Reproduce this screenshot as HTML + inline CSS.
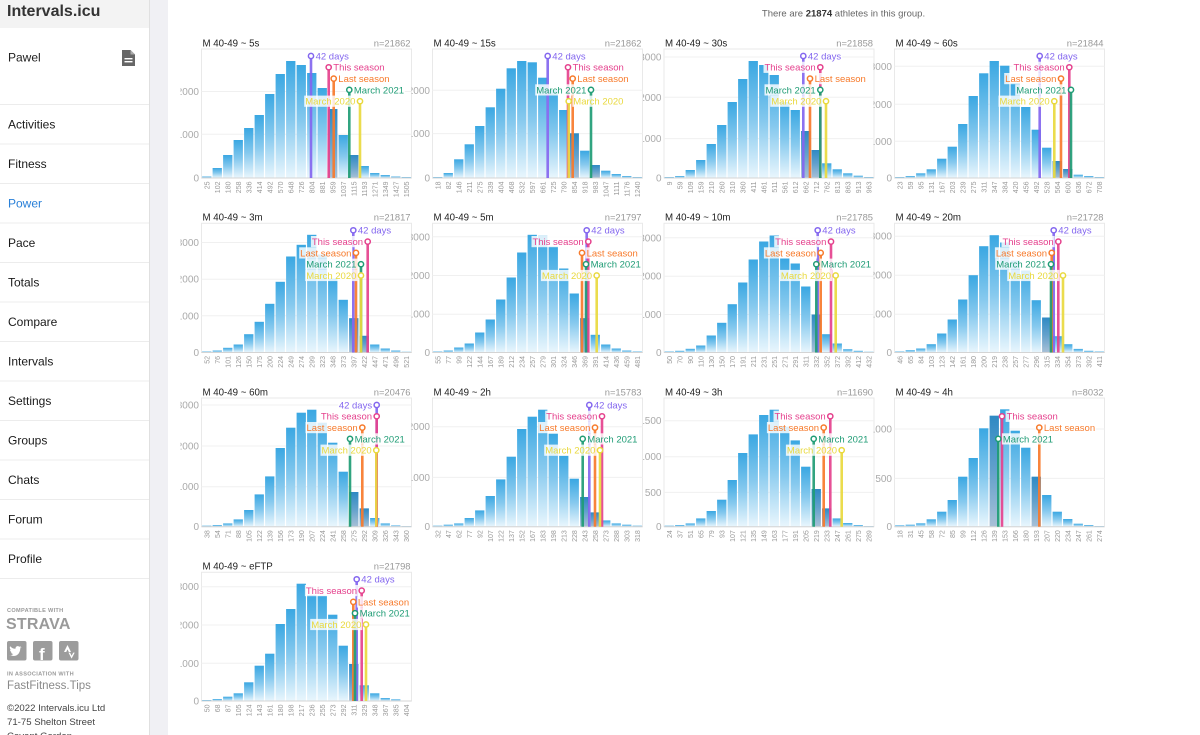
<!DOCTYPE html>
<html><head><meta charset="utf-8"><title>Power distribution</title>
<style>
html,body{margin:0;padding:0;background:#fff;}
body{width:1200px;height:735px;overflow:hidden;position:relative;font-family:"Liberation Sans",Arial,sans-serif;}
svg{position:absolute;left:0;top:0;}
</style></head>
<body>
<svg id="m" width="1200" height="735" viewBox="0 0 1200 735" xmlns="http://www.w3.org/2000/svg" font-family="'Liberation Sans', Arial, sans-serif">
<defs>
<linearGradient id="bg" x1="0" y1="0" x2="0" y2="1"><stop offset="0" stop-color="#3aa7e2"/><stop offset="0.5" stop-color="#86c9ee"/><stop offset="1" stop-color="#e9f6fd"/></linearGradient>
</defs>
<!-- sidebar -->
<rect x="0" y="0" width="149" height="735" fill="#fff"/>
<rect x="0" y="0" width="149" height="28" fill="#f3f3f3"/>
<rect x="150" y="0" width="18" height="735" fill="#f0f0f4"/>
<line x1="149.5" y1="0" x2="149.5" y2="735" stroke="#e0e0e0"/>
<text x="7" y="16" font-size="16" font-weight="bold" fill="#333">Intervals.icu</text>
<text x="8" y="61.5" font-size="12" fill="#222">Pawel</text>
<path d="M122 50h8.5l4.5 4.5V66h-13z" fill="#666"/>
<path d="M130.5 50v4.5h4.5z" fill="#aaa"/>
<rect x="124.5" y="58" width="8" height="1.4" fill="#fff"/>
<rect x="124.5" y="61" width="8" height="1.4" fill="#fff"/>
<g stroke="#ececec" stroke-width="1">
<line x1="0" x2="149" y1="104.5" y2="104.5"/><line x1="0" x2="149" y1="144" y2="144"/><line x1="0" x2="149" y1="183.5" y2="183.5"/><line x1="0" x2="149" y1="223" y2="223"/><line x1="0" x2="149" y1="262.5" y2="262.5"/><line x1="0" x2="149" y1="302" y2="302"/><line x1="0" x2="149" y1="341.5" y2="341.5"/><line x1="0" x2="149" y1="381" y2="381"/><line x1="0" x2="149" y1="420.5" y2="420.5"/><line x1="0" x2="149" y1="460" y2="460"/><line x1="0" x2="149" y1="499.5" y2="499.5"/><line x1="0" x2="149" y1="539" y2="539"/><line x1="0" x2="149" y1="578.5" y2="578.5"/>
</g>
<g font-size="12" fill="#1a1a1a">
<text x="8" y="128.5">Activities</text>
<text x="8" y="168">Fitness</text>
<text x="8" y="207.5" fill="#2a80d8">Power</text>
<text x="8" y="247">Pace</text>
<text x="8" y="286.5">Totals</text>
<text x="8" y="326">Compare</text>
<text x="8" y="365.5">Intervals</text>
<text x="8" y="405">Settings</text>
<text x="8" y="444.5">Groups</text>
<text x="8" y="484">Chats</text>
<text x="8" y="523.5">Forum</text>
<text x="8" y="563">Profile</text>
</g>
<text x="7" y="612" font-size="5.6" font-weight="bold" fill="#9a9a9a" letter-spacing="0.3">COMPATIBLE WITH</text>
<text x="6" y="629" font-size="16" font-weight="bold" fill="#9a9a9a" letter-spacing="0.2">STRAVA</text>
<rect x="7" y="641" width="19.5" height="19.5" rx="2" fill="#9c9c9c"/>
<path d="M10.5 655c3 1.8 7 1 8.6-2.2 1-1.8 1.2-3.3 1.1-4.3l1.5-1.3-1.7.4 1-1.4-1.7.6c-1.6-1.5-4-.3-3.8 2-2.3 0-4-1.1-5.3-2.6-.8 1.5-.2 3 1 3.8l-1.2-.3c0 1.3.9 2.2 2.1 2.6h-1.2c.4 1 1.4 1.7 2.5 1.7-1.3 1-2.7 1.3-4.2 1.2z" fill="#fff"/>
<rect x="33" y="641" width="19.5" height="19.5" rx="2" fill="#9c9c9c"/>
<text x="39" y="660" font-size="17" font-weight="bold" fill="#fff">f</text>
<rect x="59" y="641" width="19.5" height="19.5" rx="2" fill="#9c9c9c"/>
<path d="M64 652l3.5-7 3.5 7h-2.2l-1.3-2.6-1.3 2.6zM70 652.6l1.6 3.2 1.6-3.2h1.5l-3.1 6-3.1-6z" fill="#fff"/>
<text x="7" y="675.5" font-size="5.6" font-weight="bold" fill="#9a9a9a" letter-spacing="0.3">IN ASSOCIATION WITH</text>
<text x="7" y="689" font-size="11.5" fill="#8a8a8a">FastFitness.Tips</text>
<text x="7" y="711" font-size="9.6" fill="#444">©2022 Intervals.icu Ltd</text>
<text x="7" y="725" font-size="9.6" fill="#444">71-75 Shelton Street</text>
<text x="7" y="739" font-size="9.6" fill="#444">Covent Garden</text>
<!-- header -->
<text x="843.5" y="16.5" font-size="9.5" fill="#666" text-anchor="middle">There are <tspan font-weight="bold" fill="#333">21874</tspan> athletes in this group.</text>
<g id="ch"></g>
</svg>
<script>
const D=[
['5s',21862,[25,102,180,258,336,414,492,570,648,726,804,881,959,1037,1115,1193,1271,1349,1427,1505],[1.5,10,23,38,50,63,84,104,117,113,105,90,69,43,23,12,5,3,1.5,1],[[43.7,'1000'],[86.5,'2000']],[[311,1],[328.7,1],[333.7,1],[349.3,1],[360,0]]],
['15s',21862,[18,82,146,211,275,339,404,468,532,597,661,725,790,854,918,983,1047,1111,1176,1240],[1,5,18.7,33.7,52,70.7,89.3,109.7,117,115.7,100.3,88,68,44.7,27.3,13,7.3,4,2,1],[[44.4,'1000'],[87.7,'2000']],[[547.7,1],[568,1],[572.7,1],[591,0],[568.7,1]]],
['30s',21858,[9,59,109,159,210,260,310,360,411,461,511,561,612,662,712,762,813,863,913,963],[1,2,8,18,34,53,76,99,117,113,103,76,68,47,28,14.7,8.7,4.7,2.3,1],[[39.4,'1000'],[80.7,'2000'],[121,'3000']],[[803.3,1],[820.3,0],[810,1],[820.3,0],[826,0]]],
['60s',21844,[23,59,95,131,167,203,239,275,311,347,384,420,456,492,528,564,600,636,672,708],[1,2,4.7,8.7,19.3,31.3,54,82,104.7,117,112.3,95,71,48.3,30.3,17,9,3.3,2,1],[[36.7,'1000'],[73.7,'2000'],[111.7,'3000']],[[1039.7,1],[1069.3,0],[1061,0],[1071,0],[1054.3,0]]],
['3m',21817,[52,76,101,126,150,175,200,224,249,274,299,323,348,373,397,422,447,471,496,521],[1,2,4.7,8,18.3,30.7,48.7,70.7,96,107.7,117.7,98,74,52.7,34.3,16.7,8,4,2,0.7],[[36.7,'1000'],[73.3,'2000'],[110,'3000']],[[353.3,1],[367.7,0],[356,0],[361,0],[361,0]]],
['5m',21797,[55,77,99,122,144,167,189,212,234,257,279,301,324,346,369,391,414,436,459,481],[1,2,5,9,20,33,53,75,100,117.7,116.7,106,84,59,34.3,17.7,8,4,2,1],[[38.3,'1000'],[77,'2000'],[115.7,'3000']],[[586.7,1],[588.3,0],[582,1],[586,1],[596.7,0]]],
['10m',21785,[50,70,90,110,130,150,170,191,211,231,251,271,291,311,332,352,372,392,412,432],[1,1.7,3.7,7,17,29.7,48.3,70,93,111,117,94,89,66,38,18.3,9,3.3,1.7,0.7],[[38,'1000'],[76.3,'2000'],[114.7,'3000']],[[817.7,1],[831,0],[820.7,0],[816.3,1],[835.7,0]]],
['20m',21728,[46,65,84,103,123,142,161,180,200,219,238,257,277,296,315,334,354,373,392,411],[1,2.3,4,8.3,19,33,53,77.3,106.3,117.3,110,92,82,52.3,35,16.3,8.3,3.6,1.7,1],[[38.3,'1000'],[77.3,'2000'],[116.3,'3000']],[[1053.7,1],[1058.3,0],[1051.7,0],[1051,0],[1063,0]]],
['60m',20476,[38,54,71,88,105,122,139,156,173,190,207,224,241,258,275,292,309,326,343,360],[1,1.7,3.3,7.3,16.7,32.3,50.3,78.7,99,114,117,104,84,55,34.7,18.3,8.7,3.3,1.3,0.5],[[40,'1000'],[80.7,'2000'],[121.7,'3000']],[[376.7,0],[376.7,0],[362.3,0],[350,1],[376.3,0]]],
['2h',15783,[32,47,62,77,92,107,122,137,152,167,183,198,213,228,243,258,273,288,303,318],[1,2,3.3,8.7,16.3,30.7,47.3,70,97.7,110,117,93,71,48,29.7,14.3,6.3,3.3,2,1],[[49.3,'1000'],[100,'2000']],[[589.3,1],[602,0],[595,0],[582.7,1],[600,0]]],
['3h',11690,[24,37,51,65,79,93,107,121,135,149,163,177,191,205,219,233,247,261,275,289],[1,1.7,3.3,8.3,15.7,27,46.7,73.7,92.3,111.7,117,100,86.3,60,37.7,18.3,8.3,3.7,1.7,0.5],[[34.3,'500'],[70,'1000'],[106,'1500']],[null,[830.3,0],[823.7,0],[813.7,1],[841.7,0]]],
['4h',8032,[18,31,45,58,72,85,99,112,126,139,153,166,180,193,207,220,234,247,261,274],[1.4,2,3.4,7.4,15,26.7,50,68.7,98.4,111,117.4,96,79,50,31.7,15,7.7,3,1.7,0.7],[[48.3,'500'],[97.7,'1000']],[null,[1002,1],[1039.3,1],[998.3,1],null]],
['eFTP',21798,[50,68,87,105,124,143,161,180,198,217,236,255,273,292,311,329,348,367,385,404],[1,2,4.3,7.7,18.7,35.3,47.3,77,92,117.3,106,105.3,86.3,55.3,37,15.7,7.7,3,1.7,0.5],[[37.7,'1000'],[76,'2000'],[114.3,'3000']],[[356.7,1],[361.7,0],[353.3,1],[355,1],[366,0]]]
];
const L=[201.5,432.5,664,894.5],TOP=[49,223.3,398,572.3],B=[178,352.5,526.7,701];
const MK=[['42 days','#8366ef',33.3],['This season','#e5418d',51.2],['Last season','#f77a2b',51.2],['March 2021','#1f9c75',50.2],['March 2020','#e9d93e',50.2]];
const MO=[7,18.3,29.6,40.9,52.2];
const f=v=>(+v).toFixed(1);
let h='';
D.forEach((c,k)=>{
  const l=L[k%4],t=TOP[k>>2],b=B[k>>2],r=l+210;
  h+=`<clipPath id="cp${k}"><rect x="${f(l-21)}" y="${f(t-15)}" width="20.5" height="${f(b-t+30)}"/></clipPath>`;
  h+=`<rect x="${l}" y="${t}" width="210" height="${f(b-t)}" fill="none" stroke="#e9e9e9"/>`;
  c[4].forEach(([o])=>{h+=`<line x1="${l}" x2="${r}" y1="${f(b-o)}" y2="${f(b-o)}" stroke="#f0f0f0"/>`;});
  h+=`<g clip-path="url(#cp${k})" fill="#aaa" font-size="10" text-anchor="end">`;
  [[0,'0']].concat(c[4]).forEach(([o,v])=>{h+=`<text x="${f(l-2.5)}" y="${f(b-o+3.5)}">${v}</text>`;});
  h+='</g>';
  const hi=new Set();
  [2,3].forEach(i=>{const m=c[5][i];if(m)hi.add(Math.floor((m[0]-l)/10.5));});
  c[3].forEach((v,i)=>{
    const x=f(l+i*10.5+0.6),y=f(b-v);
    h+=`<rect x="${x}" y="${y}" width="9.3" height="${v}" fill="url(#bg)"/>`;
    if(hi.has(i))h+=`<rect x="${x}" y="${y}" width="9.3" height="${v}" fill="#14467f" fill-opacity=".3"/>`;
  });
  h+=`<line x1="${l}" x2="${r}" y1="${b}" y2="${b}" stroke="#d4d4d4"/>`;
  h+=`<g fill="#999" font-size="7" text-anchor="end">`;
  c[2].forEach((v,i)=>{h+=`<text transform="translate(${f(l+i*10.5+5.25+2.5)} ${f(b+3.5)}) rotate(-90)">${v}</text>`;});
  h+='</g>';
  h+=`<text x="${f(l+1)}" y="${f(t-2.7)}" font-size="9.7" fill="#222">M 40-49 ~ ${c[0]}</text>`;
  h+=`<text x="${f(r-1)}" y="${f(t-2.7)}" font-size="9.4" fill="#999" text-anchor="end">n=${c[1]}</text>`;
  c[5].forEach((m,i)=>{if(!m)return;const cy=t+MO[i];h+=`<line x1="${m[0]}" x2="${m[0]}" y1="${f(cy)}" y2="${b}" stroke="${MK[i][1]}" stroke-width="2.6" stroke-opacity=".92"/>`;});
  c[5].forEach((m,i)=>{
    if(!m)return;
    const [x,side]=m,cy=t+MO[i],w=MK[i][2],col=MK[i][1];
    const tx=side?x+4.6:x-4.6;
    const bx=side?tx-1:tx-w-1;
    h+=`<rect x="${f(bx)}" y="${f(cy-5.6)}" width="${f(w+2)}" height="11.2" fill="#fff" fill-opacity=".82"/>`;
    h+=`<text x="${f(tx)}" y="${f(cy+3.4)}" font-size="9.5" fill="${col}" text-anchor="${side?'start':'end'}">${MK[i][0]}</text>`;
    h+=`<circle cx="${x}" cy="${f(cy)}" r="2.6" fill="#fff" stroke="${col}" stroke-width="1.5"/>`;
  });
});
document.getElementById('ch').innerHTML=h;
</script>
</body></html>
